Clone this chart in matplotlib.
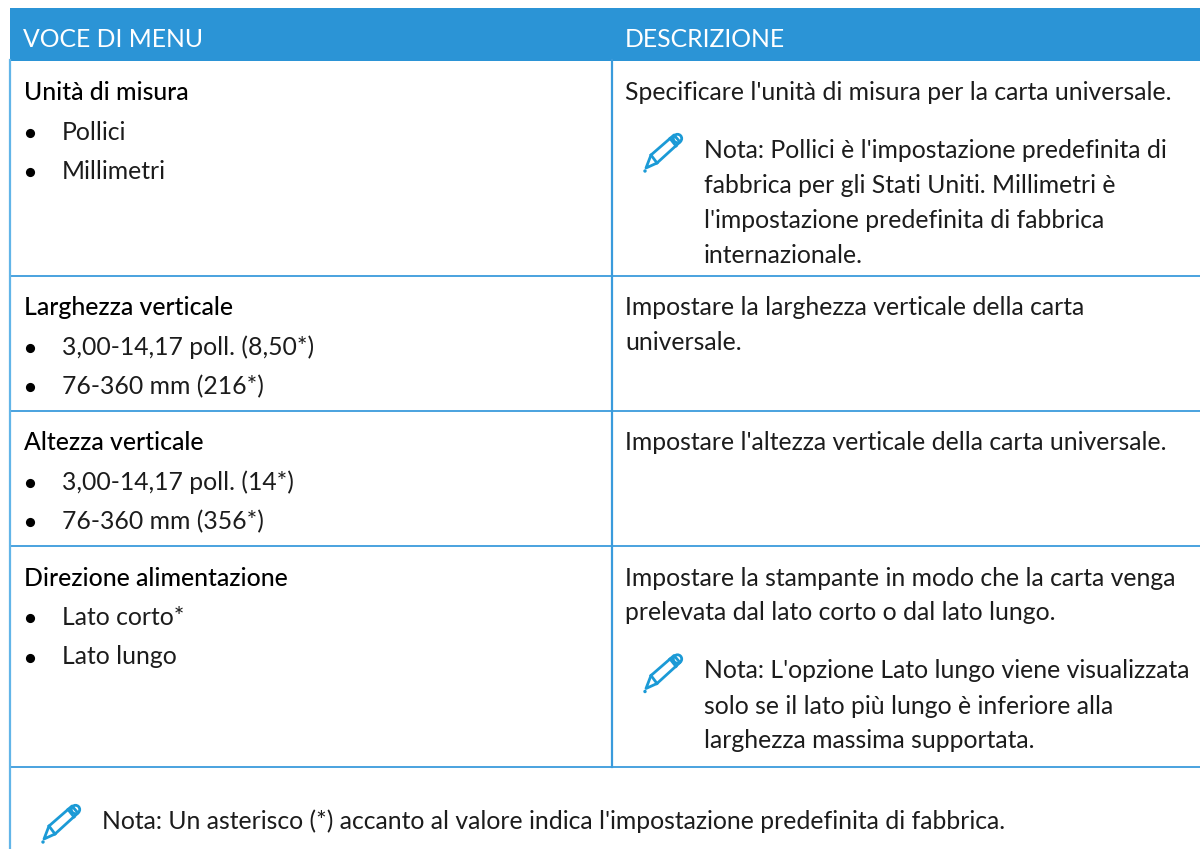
import matplotlib
matplotlib.use('Agg')
import matplotlib.pyplot as plt
from matplotlib.patches import Rectangle, Polygon, Circle

plt.rcParams['font.family'] = ['Lato', 'DejaVu Sans']

HEADERS = ['VOCE DI MENU', 'DESCRIZIONE']
ROW_TITLES = ['Unità di misura', 'Larghezza verticale', 'Altezza verticale', 'Direzione alimentazione']
ROW_OPTIONS = [
    ['Pollici', 'Millimetri'],
    ['3,00-14,17 poll. (8,50*)', '76-360 mm (216*)'],
    ['3,00-14,17 poll. (14*)', '76-360 mm (356*)'],
    ['Lato corto*', 'Lato lungo'],
]
ROW_DESC = [
    ["Specificare l'unità di misura per la carta universale."],
    ['Impostare la larghezza verticale della carta', 'universale.'],
    ["Impostare l'altezza verticale della carta universale."],
    ['Impostare la stampante in modo che la carta venga', 'prelevata dal lato corto o dal lato lungo.'],
]
ROW_NOTES = [
    ["Nota: Pollici è l'impostazione predefinita di", 'fabbrica per gli Stati Uniti. Millimetri è',
     "l'impostazione predefinita di fabbrica", 'internazionale.'],
    [],
    [],
    ["Nota: L'opzione Lato lungo viene visualizzata", 'solo se il lato più lungo è inferiore alla',
     'larghezza massima supportata.'],
]
FOOT_NOTE = "Nota: Un asterisco (*) accanto al valore indica l'impostazione predefinita di fabbrica."

ROW_LINES = [60.5, 275.5, 410.5, 546, 767]
BLUE = '#2b94d6'
LINE = '#3a9bdc'
ICON = '#1b9ad6'
TEXT = '#1c1c1c'
FS = 17.8
OPT_STEP = 39.5
LH = 35


def pencil(ax, x, y):
    # x, y is the lower-left tip of the icon
    body = [(x + 2, y - 4), (x + 7, y - 17), (x + 30, y - 37), (x + 36, y - 30), (x + 13, y - 9)]
    ax.add_patch(Polygon(body, closed=True, fill=False, ec=ICON, lw=2.0, joinstyle='round'))
    ax.plot([x + 7, x + 13], [y - 17, y - 9], color=ICON, lw=2.0)
    ax.plot([x + 26, x + 32], [y - 33.5, y - 26], color=ICON, lw=2.0)
    ax.add_patch(Circle((x + 33.5, y - 33.5), 4.2, fill=False, ec=ICON, lw=2.0))
    ax.add_patch(Circle((x + 1, y - 1), 1.0, color=ICON))


fig = plt.figure(figsize=(12, 8.49), dpi=100)
ax = fig.add_axes([0, 0, 1, 1])
ax.set_xlim(0, 1200)
ax.set_ylim(849, 0)
ax.axis('off')

ax.add_patch(Rectangle((10, 8), 1190, 52.5, color=BLUE, lw=0))
ax.text(23, 46.7, HEADERS[0], color='white', fontsize=FS, va='baseline')
ax.text(625, 46.7, HEADERS[1], color='white', fontsize=FS, va='baseline')

# grid lines
for y in ROW_LINES[1:]:
    ax.plot([10, 1200], [y, y], color=LINE, lw=1.3)
ax.plot([10, 10], [60, 849], color='#62b5e8', lw=1.6)
ax.plot([612, 612], [60, 767], color=LINE, lw=1.6)

for i, title in enumerate(ROW_TITLES):
    base = ROW_LINES[i] + 39.5
    ax.text(24, base, title, color='black', fontsize=FS, va='baseline', fontweight='medium')
    for j, opt in enumerate(ROW_OPTIONS[i]):
        oy = base + OPT_STEP * (j + 1)
        ax.plot([30], [oy - 7], 'o', color='black', ms=6.6, mew=0)
        ax.text(62, oy, opt, color=TEXT, fontsize=FS, va='baseline')
    dy = base
    for line in ROW_DESC[i]:
        ax.text(625, dy, line, color=TEXT, fontsize=FS, va='baseline')
        dy += LH
    if ROW_NOTES[i]:
        ny = dy - LH + 58
        pencil(ax, 644, ny + 14)
        for line in ROW_NOTES[i]:
            ax.text(704, ny, line, color=TEXT, fontsize=FS, va='baseline')
            ny += LH

pencil(ax, 42, 843)
ax.text(102, 829.3, FOOT_NOTE, color=TEXT, fontsize=FS, va='baseline')

fig.savefig('out.png', dpi=100)
